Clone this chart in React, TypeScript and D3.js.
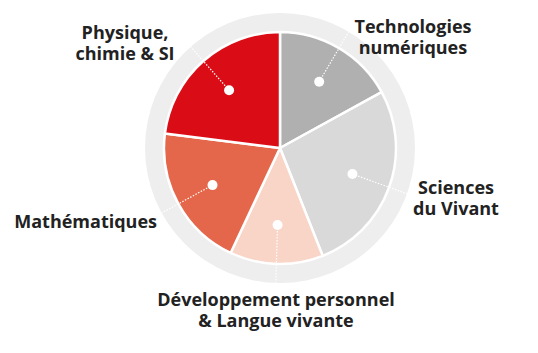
import React from "react";
import * as d3 from "d3";

const categories = [
  "Technologies numériques",
  "Sciences du Vivant",
  "Développement personnel & Langue vivante",
  "Mathématiques",
  "Physique, chimie & SI",
];
const values = [17, 27, 13, 20, 23];
const colors = ["#b1b0b0", "#d9d9d9", "#f9d5c7", "#e5674b", "#da0d16"];
const labelLines = [
  ["Technologies", "numériques"],
  ["Sciences", "du Vivant"],
  ["Développement personnel", "& Langue vivante"],
  ["Mathématiques"],
  ["Physique,", "chimie & SI"],
];

const W = 538;
const H = 353;
const cx = 280;
const cy = 148;
const R = 116;
const ringR = 135;
const dotR = 77;

// label layout: anchor x, first baseline y, text-anchor
const labelLayout = [
  { x: 413, y: 33, anchor: "middle" },
  { x: 456, y: 194, anchor: "middle" },
  { x: 276, y: 306, anchor: "middle" },
  { x: 157, y: 228, anchor: "end" },
  { x: 125, y: 39, anchor: "middle" },
];

export default function App() {
  const pie = d3.pie<number>().sort(null).value((d) => d);
  const arcs = pie(values);
  const arc = d3.arc<d3.PieArcDatum<number>>().innerRadius(0).outerRadius(R);
  const polar = (a: number, r: number) => [cx + r * Math.sin(a), cy - r * Math.cos(a)];

  return (
    <svg
      width={W}
      height={H}
      style={{ position: "absolute", left: 0, top: 0, background: "#fff" }}
      fontFamily="'Open Sans', sans-serif"
    >
      <circle cx={cx} cy={cy} r={ringR} fill="#eeeeee" />
      <g transform={`translate(${cx},${cy})`}>
        {arcs.map((a, i) => (
          <path key={i} d={arc(a) || ""} fill={colors[i]} stroke="#fff" strokeWidth={2.5} strokeLinejoin="round" />
        ))}
      </g>
      {arcs.map((a, i) => {
        const m = (a.startAngle + a.endAngle) / 2;
        const [x1, y1] = polar(m, dotR);
        const [x2, y2] = polar(m, ringR);
        return (
          <g key={"d" + i}>
            <line x1={x1} y1={y1} x2={x2} y2={y2} stroke="#fff" strokeWidth={1.2} strokeDasharray="1.5,1.5" />
            <circle cx={x1} cy={y1} r={5} fill="#fff" />
          </g>
        );
      })}
      {labelLines.map((lines, i) => (
        <text
          key={"t" + i}
          x={labelLayout[i].x}
          y={labelLayout[i].y}
          textAnchor={labelLayout[i].anchor as any}
          fontSize={18}
          fontWeight={700}
          fill="#222"
        >
          {lines.map((l, j) => (
            <tspan key={j} x={labelLayout[i].x} dy={j === 0 ? 0 : 21}>
              {l}
            </tspan>
          ))}
        </text>
      ))}
    </svg>
  );
}
